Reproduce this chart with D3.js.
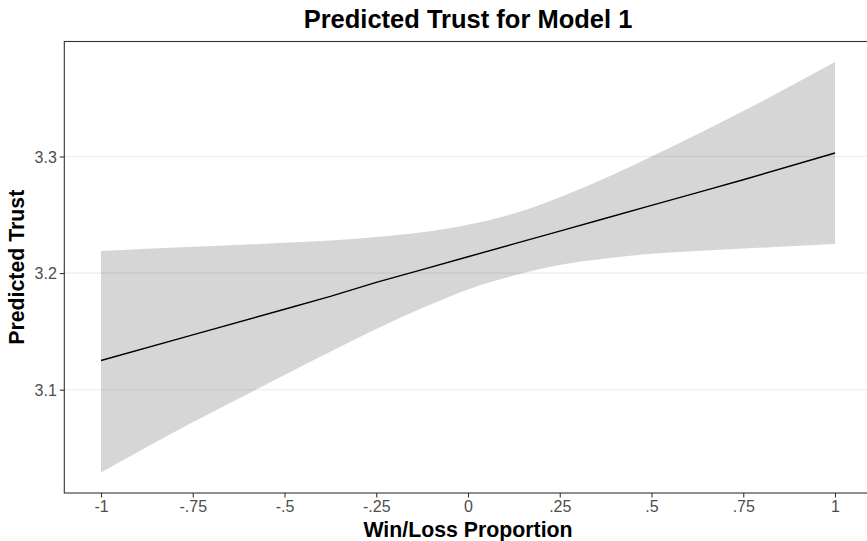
<!DOCTYPE html>
<html>
<head>
<meta charset="utf-8">
<script src="https://cdn.jsdelivr.net/npm/d3@7"></script>
<style>
  html, body { margin: 0; padding: 0; background: #fff; }
  svg { display: block; font-family: "Liberation Sans", Arial, sans-serif; }
</style>
</head>
<body>
<svg id="chart" width="867" height="541"></svg>
<script>
// Win/Loss proportion grid where predictions were evaluated
const winLoss   = [-1,    -0.75,  -0.5,   -0.375, -0.25, -0.125, 0,      0.125, 0.25,  0.375,  0.5,    0.625, 0.75,  1];
// Predicted trust (fitted line)
const predicted = [3.125, 3.147,  3.169,  3.180,  3.192, 3.203,  3.214,  3.225, 3.236, 3.247,  3.258,  3.269, 3.280, 3.303];
// Confidence band bounds
const upperCI   = [3.219, 3.2225, 3.226,  3.228,  3.231, 3.235,  3.2415, 3.251, 3.265, 3.2815, 3.300,  3.319, 3.339, 3.381];
const lowerCI   = [3.029, 3.072,  3.1125, 3.1325, 3.152, 3.170,  3.186,  3.198, 3.207, 3.2125, 3.2165, 3.219, 3.221, 3.225];

const xTickValues = [-1, -0.75, -0.5, -0.25, 0, 0.25, 0.5, 0.75, 1];
const xTickLabels = ["-1", "-.75", "-.5", "-.25", "0", ".25", ".5", ".75", "1"];
const yTickValues = [3.1, 3.2, 3.3];
const yTickLabels = ["3.1", "3.2", "3.3"];

const titleText = "Predicted Trust for Model 1";
const xTitle = "Win/Loss Proportion";
const yTitle = "Predicted Trust";

const rows = winLoss.map((x, i) => ({ x, fit: predicted[i], lo: lowerCI[i], hi: upperCI[i] }));

const svg = d3.select("#chart");

// Panel geometry; the panel runs slightly past the right edge of the canvas
const panel = { left: 64.3, top: 41.5, bottom: 493, right: 871.7 };

// Domain padded by 5% of the data range on each side
const xMin = d3.min(winLoss), xMax = d3.max(winLoss);
const xPad = (xMax - xMin) * 0.05;
const yMin = d3.min(lowerCI), yMax = d3.max(upperCI);
const yPad = (yMax - yMin) * 0.05;

const x = d3.scaleLinear().domain([xMin - xPad, xMax + xPad]).range([panel.left, panel.right]);
const y = d3.scaleLinear().domain([yMin - yPad, yMax + yPad]).range([panel.bottom, panel.top]);

svg.append("defs").append("clipPath").attr("id", "panel-clip")
  .append("rect")
  .attr("x", panel.left).attr("y", panel.top)
  .attr("width", panel.right - panel.left).attr("height", panel.bottom - panel.top);

// Horizontal grid lines
svg.append("g").selectAll("line")
  .data(yTickValues).join("line")
  .attr("x1", panel.left).attr("x2", panel.right)
  .attr("y1", d => y(d)).attr("y2", d => y(d))
  .attr("stroke", "#ebebeb").attr("stroke-width", 1.1);

const plot = svg.append("g").attr("clip-path", "url(#panel-clip)");

// Confidence ribbon
plot.append("path")
  .datum(rows)
  .attr("d", d3.area()
    .x(d => x(d.x))
    .y0(d => y(d.lo))
    .y1(d => y(d.hi))
    .curve(d3.curveMonotoneX))
  .attr("fill", "#333333")
  .attr("fill-opacity", 0.2);

// Fitted line
plot.append("path")
  .datum(rows)
  .attr("d", d3.line().x(d => x(d.x)).y(d => y(d.fit)))
  .attr("fill", "none")
  .attr("stroke", "#000")
  .attr("stroke-width", 1.4);

// Panel border
svg.append("rect")
  .attr("x", panel.left).attr("y", panel.top)
  .attr("width", panel.right - panel.left).attr("height", panel.bottom - panel.top)
  .attr("fill", "none").attr("stroke", "#333333").attr("stroke-width", 1.1);

// Axes
const xAxis = d3.axisBottom(x)
  .tickValues(xTickValues)
  .tickFormat((d, i) => xTickLabels[i])
  .tickSize(4.5).tickSizeOuter(0).tickPadding(3);
const gx = svg.append("g").attr("transform", `translate(0,${panel.bottom})`).call(xAxis);
gx.select(".domain").remove();

const yAxis = d3.axisLeft(y)
  .tickValues(yTickValues)
  .tickFormat((d, i) => yTickLabels[i])
  .tickSize(4.5).tickSizeOuter(0).tickPadding(3);
const gy = svg.append("g").attr("transform", `translate(${panel.left},0)`).call(yAxis);
gy.select(".domain").remove();

[gx, gy].forEach(g => {
  g.selectAll(".tick line").attr("stroke", "#333333").attr("stroke-width", 1.1);
  g.selectAll(".tick text")
    .attr("fill", "#4d4d4d")
    .style("font-family", "'Liberation Sans', Arial, sans-serif")
    .style("font-size", "16px");
});
gy.selectAll(".tick text").attr("dy", "0.36em");

const cx = (panel.left + panel.right) / 2;

// Titles
svg.append("text")
  .attr("x", cx).attr("y", 28)
  .attr("text-anchor", "middle")
  .style("font-size", "25.5px").style("font-weight", "bold")
  .attr("fill", "#000")
  .text(titleText);

svg.append("text")
  .attr("x", cx).attr("y", 537)
  .attr("text-anchor", "middle")
  .style("font-size", "21.3px").style("font-weight", "bold")
  .attr("fill", "#000")
  .text(xTitle);

svg.append("text")
  .attr("transform", `translate(23.5,${(panel.top + panel.bottom) / 2}) rotate(-90)`)
  .attr("text-anchor", "middle")
  .style("font-size", "21.3px").style("font-weight", "bold")
  .attr("fill", "#000")
  .text(yTitle);
</script>
</body>
</html>
